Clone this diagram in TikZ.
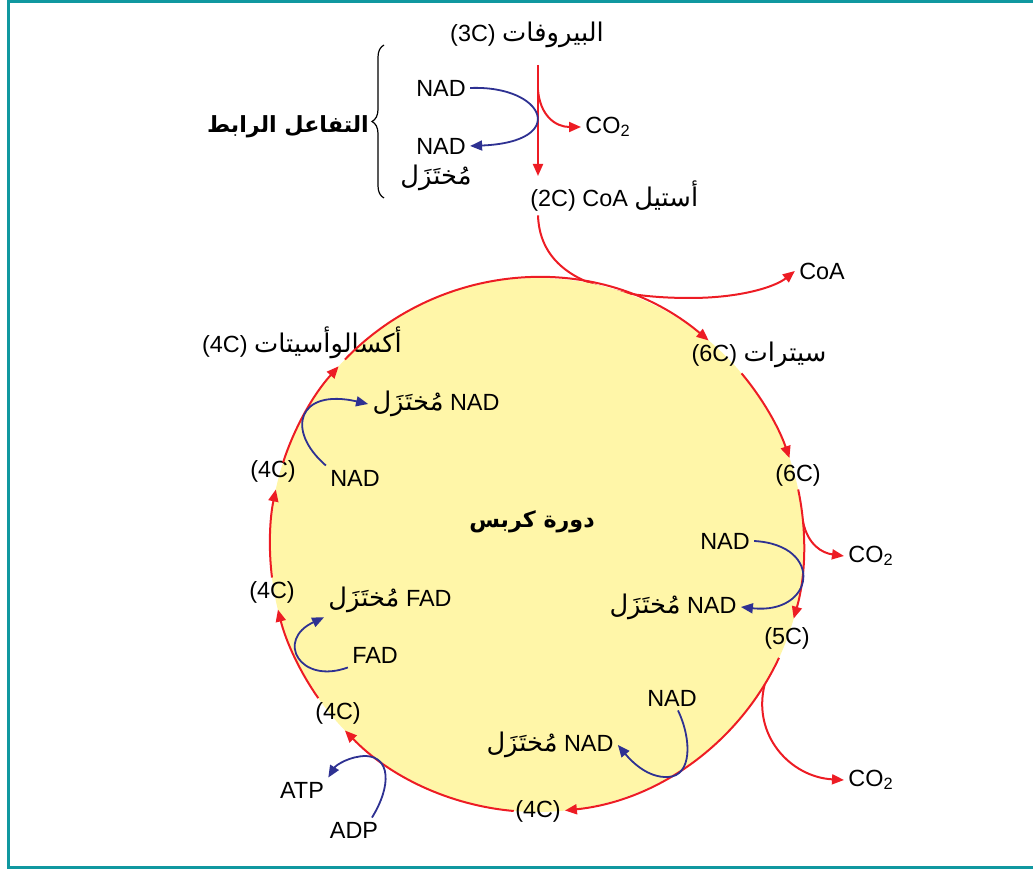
\documentclass[tikz,border=0pt]{standalone}
\usepackage{fontspec}
\setmainfont{Liberation Sans}
\newfontfamily\arabicfont[Script=Arabic,Scale=1.1]{DejaVu Sans}
\TeXXeTstate=1
\usepackage{tikz}
\usetikzlibrary{arrows.meta,calc,decorations.pathreplacing}
\definecolor{krebsred}{RGB}{237,28,36}
\definecolor{nadblue}{RGB}{46,49,146}
\definecolor{cyclefill}{RGB}{255,246,168}
\definecolor{frameteal}{RGB}{16,152,160}
\newcommand{\artxt}[1]{{\arabicfont\beginR#1\endR}}

\begin{document}
\begin{tikzpicture}[x=0.5pt, y=-0.5pt,
    every node/.style={font=\fontsize{11.7}{14}\selectfont, inner sep=2pt},
    boldtitle/.style={font=\fontsize{10.1}{12}\selectfont\bfseries},
    redarrow/.style={krebsred, line width=1pt, -{Triangle[length=6pt,width=5pt]}},
    bluearrow/.style={nadblue, line width=0.9pt, -{Triangle[length=6pt,width=5pt]}}]
    % Frame
    \useasboundingbox (0,0) rectangle (1033,870);
    \draw [frameteal, line width=1.5pt] (1033,1.5) -- (8.5,1.5) -- (8.5,867.5) -- (1033,867.5);

    % Link reaction
    \node (Pyr) at (527,35) {(3C) \artxt{البيروفات}};
    \coordinate (PyrOut) at (538,65);
    \node [anchor=north west] (AcCoA) at (526,176) {(2C) CoA \artxt{أستيل}};
    \draw [redarrow] (PyrOut) -- (PyrOut |- AcCoA.north);
    \node (CO2a) at (608,127) {CO\textsubscript{2}};
    \draw [redarrow] ($(PyrOut)+(0,25)$) .. controls (540,115) and (555,127) .. (CO2a.west);
    \node (NADa) at (441,88) {NAD};
    \node (NADHa) at (441,146) {NAD};
    \node (Reda) at (436,178) {\artxt{مُختَزَل}};
    \draw [bluearrow] (NADa.east) .. controls (545,85) and (570,142) .. (NADHa.east);
    \draw [decorate, decoration={brace, amplitude=6pt}, line width=0.6pt] (384,198) -- (384,45);
    \node [boldtitle] (Link) at (288,127) {\artxt{التفاعل الرابط}};

    % Acetyl CoA enters the cycle
    \node (CoA) at (822,271) {CoA};
    \draw [redarrow] (PyrOut |- AcCoA.south) .. controls (540,280) and (610,298) .. (690,298) .. controls (740,298) and (775,287) .. (CoA.west);

    % Krebs cycle
    \coordinate (O) at (537,545);
    \fill [cyclefill] (O) circle [radius=267];
    \node [boldtitle] (Krebs) at (532,522) {\artxt{دورة كربس}};
    \node (Cit) at (759,355) {(6C) \artxt{سيترات}};
    \node (Isc) at (798,475) {(6C)};
    \node (Akg) at (787,638) {(5C)};
    \node (Suc) at (538,811) {(4C)};
    \node (Sca) at (338,713) {(4C)};
    \node (Fum) at (272,592) {(4C)};
    \node (Mal) at (273,471) {(4C)};
    \node (Oxa) at (302,343) {(4C) \artxt{أكسالوأسيتات}};
    \foreach \a/\b in {224/310, 320/341, 348/376, 385/444, 455/496, 505/526, 533/552, 558/582}
        \draw [redarrow] ($(O)+(\a:267)$) arc [start angle=\a, end angle=\b, radius=267];

    % CO2 out
    \node (CO2b) at (871,556) {CO\textsubscript{2}};
    \draw [redarrow] ($(O)+(-5:267)$) .. controls (808,545) and (822,553) .. (CO2b.west);
    \node (CO2c) at (871,780) {CO\textsubscript{2}};
    \draw [redarrow] ($(O)+(31.5:267)$) .. controls (752,735) and (790,777) .. (CO2c.west);

    % Carriers
    \node (NADb) at (725,541) {NAD};
    \node (NADHb) at (673,607) {\artxt{مُختَزَل} NAD};
    \draw [bluearrow] (NADb.east) .. controls (825,545) and (815,615) .. (NADHb.east);
    \node (NADc) at (672,698) {NAD};
    \node (NADHc) at (550,745) {\artxt{مُختَزَل} NAD};
    \draw [bluearrow] ($(NADc.south)+(6,0)$) .. controls (692,740) and (692,776) .. (668,777) .. controls (648,778) and (632,762) .. (NADHc.east);
    \node (ATP) at (302,790) {ATP};
    \node (ADP) at (354,830) {ADP};
    \draw [bluearrow] ($(ADP.north)+(18,0)$) .. controls (392,785) and (390,757) .. (366,756) .. controls (350,756) and (336,765) .. (ATP.north east);
    \node (FAD) at (375,655) {FAD};
    \node (FADH) at (390,600) {\artxt{مُختَزَل} FAD};
    \draw [bluearrow] (FAD.south west) .. controls (300,685) and (275,640) .. (FADH.south west);
    \node (NADd) at (355,478) {NAD};
    \node (NADHd) at (436,404) {\artxt{مُختَزَل} NAD};
    \draw [bluearrow] (NADd.north west) .. controls (285,430) and (298,388) .. (NADHd.west);
\end{tikzpicture}
\end{document}
